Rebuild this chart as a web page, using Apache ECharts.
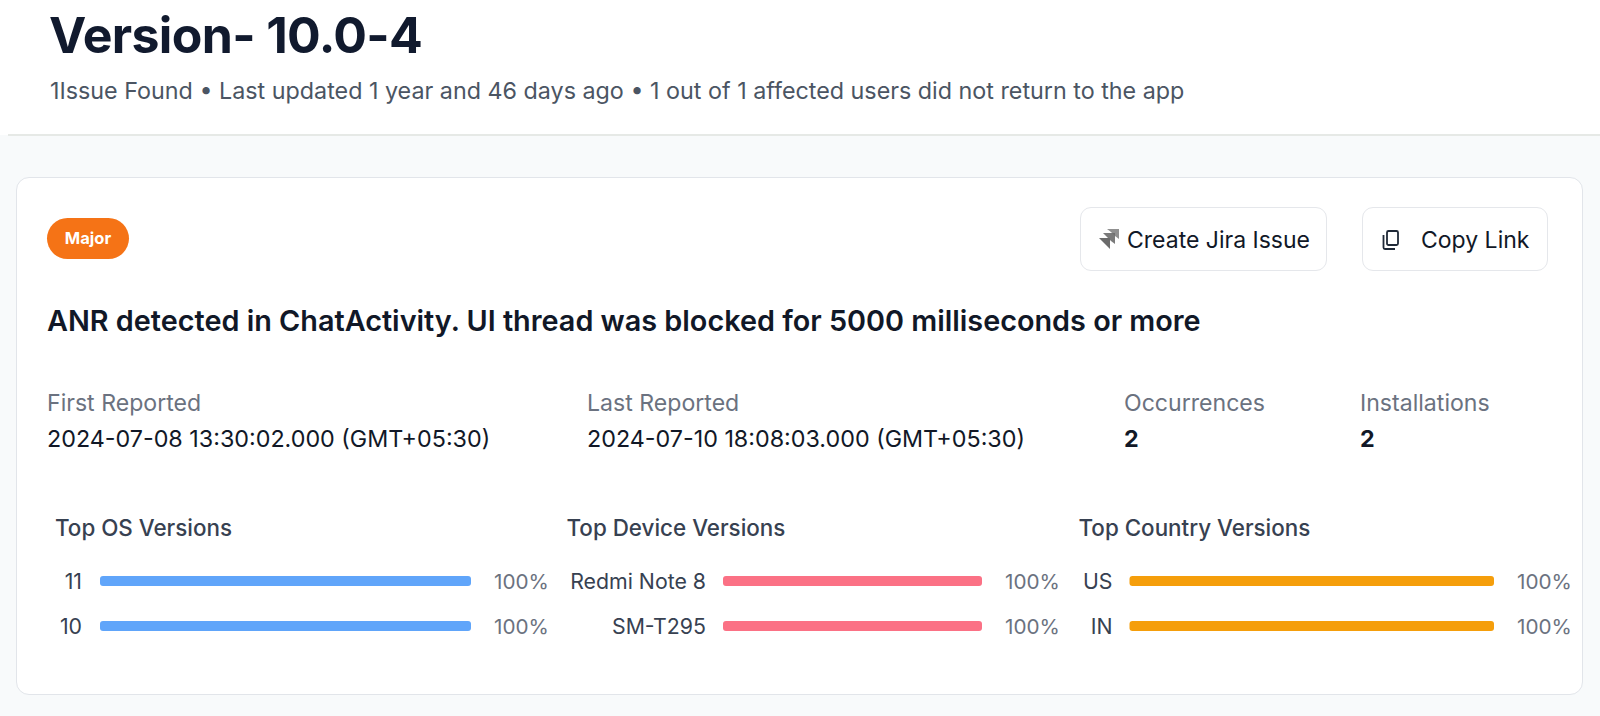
<!DOCTYPE html>
<html><head><meta charset="utf-8">
<script src="https://cdn.jsdelivr.net/npm/echarts@6/dist/echarts.min.js"></script>
<style>
html,body{margin:0;padding:0;width:1600px;height:716px;overflow:hidden;background:#fff;font-family:Inter,sans-serif}
.a{position:absolute;white-space:nowrap;line-height:1}
#bg{left:0;top:135px;width:1600px;height:581px;background:#f8fafb}
#rule{left:8px;top:134px;width:1592px;height:1.5px;background:#e6e9e6}
#card{left:16px;top:176.5px;width:1567px;height:518.5px;background:#fff;border:1.5px solid #e2e5ea;border-radius:13px;box-sizing:border-box}
.btn{background:#fff;border:1.5px solid #e5e7eb;border-radius:11px;box-sizing:border-box}
.lab{font-size:23.1px;color:#6b7280}
.val{font-size:23.3px;color:#111827}
#chart{left:0;top:0;width:1600px;height:716px}
</style></head><body>
<div class="a" id="bg"></div><div class="a" id="rule"></div><div class="a" id="card"></div>
<div class="a" style="left:49px;top:11px;font-size:50px;font-weight:700;color:#111a2e;line-height:48px;letter-spacing:-.65px">Version- 10.0-4</div>
<div class="a" style="left:50px;top:79px;font-size:23.3px;color:#4b5563;line-height:24px">1Issue Found • Last updated 1 year and 46 days ago • 1 out of 1 affected users did not return to the app</div>
<div class="a" style="left:47px;top:218px;width:82px;height:41px;border-radius:21px;background:#f57316;color:#fff;font-size:16.5px;font-weight:700;line-height:41px;text-align:center">Major</div>
<div class="a btn" style="left:1080px;top:207px;width:247px;height:64px"></div>
<svg class="a" style="left:1098px;top:227px" width="22" height="24" viewBox="0 0 22 24"><g fill="#6b6b6b"><path d="M9 2h12v10l-4-3-4-4z" opacity=".75"/><path d="M5 6h12v11l-4-3-4-4z" opacity=".9"/><path d="M1 11h11v11l-4-4-4-4z"/></g></svg>
<div class="a" style="left:1127px;top:228px;font-size:23px;color:#111827;line-height:24px">Create Jira Issue</div>
<div class="a btn" style="left:1362px;top:207px;width:186px;height:64px"></div>
<svg class="a" style="left:1381px;top:229px" width="20" height="22" viewBox="0 0 20 22" fill="none" stroke="#1f2937" stroke-width="1.8"><rect x="6" y="2" width="11" height="14" rx="1.5"/><path d="M2.5 6v12.5a1.5 1.5 0 0 0 1.5 1.5h10"/></svg>
<div class="a" style="left:1421px;top:228px;font-size:23px;color:#111827;line-height:24px">Copy Link</div>
<div class="a" style="left:47px;top:305px;font-size:28.8px;font-weight:600;color:#111827;line-height:32px">ANR detected in ChatActivity. UI thread was blocked for 5000 milliseconds or more</div>
<div class="a lab" style="left:47px;top:391px;line-height:24px">First Reported</div>
<div class="a val" style="left:47px;top:427px;line-height:24px">2024-07-08 13:30:02.000 (GMT+05:30)</div>
<div class="a lab" style="left:587px;top:391px;line-height:24px">Last Reported</div>
<div class="a val" style="left:587px;top:427px;line-height:24px">2024-07-10 18:08:03.000 (GMT+05:30)</div>
<div class="a lab" style="left:1124px;top:391px;line-height:24px">Occurrences</div>
<div class="a val" style="left:1124px;top:427px;line-height:24px;font-weight:700">2</div>
<div class="a lab" style="left:1360px;top:391px;line-height:24px">Installations</div>
<div class="a val" style="left:1360px;top:427px;line-height:24px;font-weight:700">2</div>
<div class="a" id="chart"></div>
<script>
const osTitle = 'Top OS Versions';
const osCategories = ['11', '10'];
const osValues = [100, 100];
const deviceTitle = 'Top Device Versions';
const deviceCategories = ['Redmi Note 8', 'SM-T295'];
const deviceValues = [100, 100];
const countryTitle = 'Top Country Versions';
const countryCategories = ['US', 'IN'];
const countryValues = [100, 100];

const panels = [
  {title: osTitle, cats: osCategories, vals: osValues, color: '#60a5fa', titleX: 55, left: 100, right: 471, margin: 18},
  {title: deviceTitle, cats: deviceCategories, vals: deviceValues, color: '#fb7185', titleX: 566.5, left: 723, right: 982, margin: 17},
  {title: countryTitle, cats: countryCategories, vals: countryValues, color: '#f59e0b', titleX: 1078.5, left: 1129.5, right: 1494, margin: 17}
];
const font = 'Inter';
const chart = echarts.init(document.getElementById('chart'), null, {renderer: 'svg', width: 1600, height: 716});
chart.setOption({
  backgroundColor: 'transparent',
  animation: false,
  title: panels.map(p => ({
    text: p.title, left: p.titleX, top: 515.5, padding: 0,
    textStyle: {fontFamily: font, fontSize: 22.4, fontWeight: 500, color: '#374151', lineHeight: 24}
  })),
  grid: panels.map(p => ({left: p.left, width: p.right - p.left, top: 558.5, height: 90, containLabel: false})),
  xAxis: panels.map((p, i) => ({type: 'value', gridIndex: i, min: 0, max: 100, show: false})),
  yAxis: panels.map((p, i) => ({
    type: 'category', gridIndex: i, inverse: true, data: p.cats,
    axisLine: {show: false}, axisTick: {show: false},
    axisLabel: {margin: p.margin, fontFamily: font, fontSize: 21.3, color: '#374151', hideOverlap: false, interval: 0}
  })),
  series: panels.map((p, i) => ({
    type: 'bar', xAxisIndex: i, yAxisIndex: i, data: p.vals, barWidth: 10, silent: true,
    itemStyle: {color: p.color, borderRadius: 3},
    label: {show: true, position: 'right', distance: 23, formatter: '{c}%', fontFamily: font, fontSize: 20.7, color: '#6b7280'}
  }))
});
</script>
</body></html>
